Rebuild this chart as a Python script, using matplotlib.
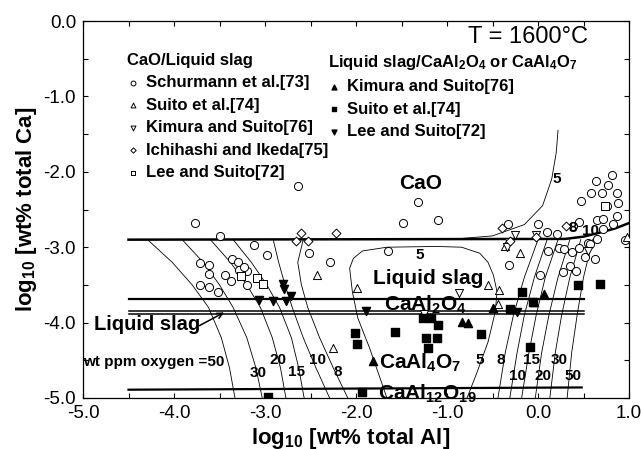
import numpy as np
import matplotlib
matplotlib.use("Agg")
import matplotlib.pyplot as plt

plt.rcParams['font.family'] = ['Liberation Sans', 'DejaVu Sans']
plt.rcParams['mathtext.fontset'] = 'custom'
plt.rcParams['mathtext.rm'] = 'Liberation Sans:bold'
plt.rcParams['mathtext.it'] = 'Liberation Sans:bold'
plt.rcParams['mathtext.bf'] = 'Liberation Sans:bold'
plt.rcParams['mathtext.default'] = 'rm'

# ---- measured equilibria: CaO / liquid slag ----
schurmann_x = [-3.77, -3.49, -3.12, -2.98, -3.71, -3.62, -3.61, -3.71, -3.62, -3.52, -3.44, -3.37,
               -3.36, -3.30, -3.29, -3.20, -3.20, -3.23,
               -2.64, -2.52, -2.29, -1.65, -1.48, -1.32, -1.10, -0.33, -0.32, 0.00,
               0.10, 0.21, 0.11, 0.02, 0.23, 0.29, 0.37, 0.45, 0.45, 0.55, 0.63, 0.52, 0.35, 0.27,
               0.42, 0.47, 0.58, 0.70, 0.64, 0.77, 0.81, 0.87, 0.88, 0.76, 0.87, 0.65, 0.71, 0.82,
               0.71, 0.65, 0.57, 0.96, 0.38]
schurmann_y = [-2.68, -2.85, -2.97, -3.10, -3.21, -3.24, -3.35, -3.50, -3.53, -3.59, -3.37, -3.45,
               -3.16, -3.19, -3.30, -3.32, -3.50, -3.26,
               -2.19, -3.08, -3.19, -3.05, -2.68, -2.40, -2.64, -2.69, -3.24, -2.69,
               -2.80, -2.83, -3.05, -3.37, -3.01, -3.03, -3.06, -3.01, -2.67, -2.94, -3.15, -3.13,
               -3.25, -3.33, -3.32, -2.39, -2.28, -2.28, -2.12, -2.17, -2.04, -2.28, -2.41, -2.46,
               -2.58, -2.64, -2.63, -2.69, -2.76, -2.89, -2.96, -2.90, -2.72]

suito_open_x = [-2.43, -1.99, -2.25, -0.55, -0.43, -0.44, -0.20, 0.98, -0.36]
suito_open_y = [-3.37, -3.54, -4.34, -3.50, -3.57, -3.75, -3.08, -2.86, -2.98]

kimura_open_x = [-0.87, -1.25, -0.25, -0.32, -0.34, -0.02, 0.55]
kimura_open_y = [-3.61, -3.88, -2.84, -2.93, -3.00, -2.84, -3.05]

ichihashi_x = [-2.60, -2.66, -2.53, -2.22, -0.40, -0.31, -0.02, 0.31]
ichihashi_y = [-2.81, -2.92, -2.92, -2.81, -2.75, -2.92, -2.87, -2.72]

lee_open_x = [-3.26, -3.09, -3.02, 0.74]
lee_open_y = [-3.38, -3.41, -3.49, -2.46]

# ---- measured equilibria: liquid slag / CaAl2O4 or CaAl4O7 ----
kimura_fill_x = [-1.81, -0.84, -0.77, -0.49, -0.04, 0.07]
kimura_fill_y = [-4.51, -3.99, -4.01, -3.81, -3.73, -3.62]

suito_fill_x = [-2.97, -2.01, -1.99, -1.93, -1.57, -1.26, -1.18, -1.10, -1.23, -1.11, -1.21,
                -0.63, -0.18, -0.31, -0.05, -0.09, 0.44, 0.68]
suito_fill_y = [-4.99, -4.14, -4.29, -4.92, -4.12, -3.94, -3.94, -4.03, -4.20, -4.20, -4.34,
                -4.15, -3.59, -3.82, -3.73, -4.32, -3.50, -3.49]

lee_fill_x = [-3.07, -2.91, -2.77, -2.80, -2.79, -2.71, -1.89, -0.23]
lee_fill_y = [-3.70, -3.71, -3.71, -3.49, -3.55, -3.65, -3.85, -3.86]

# ---- phase boundaries ----
cao_bound_x = [-4.5, 0.3, 0.5, 0.7, 0.85, 1.0]
cao_bound_y = [-2.90, -2.89, -2.86, -2.80, -2.75, -2.68]
caal2o4_x = [-4.5, 0.5]
caal2o4_y = [-3.69, -3.69]
slag_upper_y = [-3.85, -3.85]
slag_lower_y = [-3.88, -3.88]
caal12_x = [-4.5, 0.48]
caal12_y = [-4.89, -4.86]

# ---- iso-oxygen contours (wt ppm) ----
iso_y = [-2.9, -3.2, -3.5, -3.8, -4.2, -4.6, -5.0]
iso_left = {
    50: [-4.29, -4.02, -3.80, -3.62, -3.48, -3.39, -3.33],
    30: [-3.91, -3.68, -3.50, -3.35, -3.20, -3.10, -3.03],
    20: [-3.60, -3.38, -3.20, -3.05, -2.92, -2.83, -2.77],
    15: [-3.35, -3.15, -2.98, -2.84, -2.71, -2.63, -2.57],
    10: [-2.91, -2.85, -2.78, -2.70, -2.58, -2.44, -2.29],
    8: [-2.58, -2.64, -2.60, -2.53, -2.40, -2.25, -2.09],
}
iso_right_y = [-5.0, -4.4, -3.9, -3.4, -2.9]
iso_right = {
    8: [-0.44, -0.36, -0.27, -0.15, 0.00],
    10: [-0.31, -0.23, -0.15, -0.04, 0.10],
    15: [-0.18, -0.10, -0.02, 0.08, 0.22],
    20: [-0.03, 0.04, 0.12, 0.22, 0.35],
    30: [0.13, 0.19, 0.26, 0.35, 0.47],
    50: [0.32, 0.37, 0.43, 0.50, 0.60],
}
loop5_x = [-1.66, -1.85, -1.98, -2.04, -2.07, -2.03, -1.93, -1.66, -1.12, -0.84, -0.64,
           -0.55, -0.49, -0.45, -0.47, -0.55, -0.67, -0.78]
loop5_y = [-5.00, -4.34, -3.94, -3.59, -3.28, -3.15, -3.05, -3.00, -2.99, -3.00, -3.08,
           -3.20, -3.37, -3.59, -3.86, -4.26, -4.66, -5.00]
cao5_x = [0.22, 0.20, 0.15, 0.05, -0.15, -0.50, -0.90]
cao5_y = [-1.45, -1.75, -2.10, -2.45, -2.70, -2.85, -2.89]

fig = plt.figure(figsize=(6.41, 4.49), dpi=100)
ax = fig.add_axes([83 / 641, 51 / 449, 546 / 641, 377 / 449])

thin = dict(color='black', lw=0.6)
for xs in iso_left.values():
    ax.plot(xs, iso_y, **thin)
for xs in iso_right.values():
    ax.plot(xs, iso_right_y, **thin)
ax.plot(loop5_x, loop5_y, **thin)
ax.plot(cao5_x, cao5_y, **thin)

ax.plot(cao_bound_x, cao_bound_y, color='black', lw=1.8)
ax.plot(caal2o4_x, caal2o4_y, color='black', lw=1.6)
ax.plot(caal2o4_x, slag_upper_y, color='black', lw=1.1)
ax.plot(caal2o4_x, slag_lower_y, color='black', lw=1.1)
ax.plot(caal12_x, caal12_y, color='black', lw=1.6)

ms = 34
open_kw = dict(facecolor='white', edgecolor='black', linewidths=0.7, zorder=3)
h1 = ax.scatter(schurmann_x, schurmann_y, marker='o', s=ms, label='Schurmann et al.[73]', **open_kw)
h2 = ax.scatter(suito_open_x, suito_open_y, marker='^', s=ms, label='Suito et al.[74]', **open_kw)
h3 = ax.scatter(kimura_open_x, kimura_open_y, marker='v', s=ms, label='Kimura and Suito[76]', **open_kw)
h4 = ax.scatter(ichihashi_x, ichihashi_y, marker='D', s=ms * 0.6, label='Ichihashi and Ikeda[75]', **open_kw)
h5 = ax.scatter(lee_open_x, lee_open_y, marker='s', s=ms * 0.8, label='Lee and Suito[72]', **open_kw)

fill_kw = dict(color='black', zorder=3)
g1 = ax.scatter(kimura_fill_x, kimura_fill_y, marker='^', s=ms, label='Kimura and Suito[76]', **fill_kw)
g2 = ax.scatter(suito_fill_x, suito_fill_y, marker='s', s=ms, label='Suito et al.[74]', **fill_kw)
g3 = ax.scatter(lee_fill_x, lee_fill_y, marker='v', s=ms, label='Lee and Suito[72]', **fill_kw)

leg_kw = dict(frameon=False, prop={'weight': 'bold', 'size': 12}, markerscale=0.6,
              handlelength=0.8, handletextpad=0.36, labelspacing=0.45, borderpad=0,
              borderaxespad=0, alignment='left',
              title_fontproperties={'weight': 'bold', 'size': 12})
leg1 = ax.legend(handles=[h1, h2, h3, h4, h5], title='CaO/Liquid slag', loc='upper left',
                 bbox_to_anchor=(-4.52, -0.42), bbox_transform=ax.transData, **leg_kw)
ax.add_artist(leg1)
ax.legend(handles=[g1, g2, g3], title=r'Liquid slag/CaAl$_2$O$_4$ or CaAl$_4$O$_7$',
          loc='upper left', bbox_to_anchor=(-2.31, -0.42), bbox_transform=ax.transData, **leg_kw)

ax.text(-0.77, -0.21, 'T = 1600°C', fontsize=17, ha='left', va='center')

big = dict(fontsize=15, fontweight='bold', ha='center', va='center')
ax.text(-1.29, -2.15, 'CaO', **big)
ax.text(-1.21, -3.41, 'Liquid slag', **big)
ax.text(-1.24, -3.76, r'CaAl$_2$O$_4$', **big)
ax.text(-1.29, -4.53, r'CaAl$_4$O$_7$', **big)
ax.text(-1.22, -4.95, r'CaAl$_{12}$O$_{19}$', **big)
ax.text(-4.30, -4.02, 'Liquid slag', fontsize=14.5, fontweight='bold', ha='center', va='center')
ax.annotate('', xy=(-3.45, -3.865), xytext=(-3.72, -4.04),
            arrowprops=dict(arrowstyle='->', lw=1.1, color='black', shrinkA=0, shrinkB=0))

lab = dict(fontsize=11, fontweight='bold', ha='center', va='center')
ax.text(-5.0, -4.52, 'wt ppm oxygen =50', fontsize=11, fontweight='bold', ha='left', va='center')
for s, x, y in [('30', -3.08, -4.67), ('20', -2.86, -4.50), ('15', -2.65, -4.66),
                ('10', -2.42, -4.50), ('8', -2.20, -4.66),
                ('5', -0.64, -4.50), ('8', -0.41, -4.50), ('10', -0.23, -4.71),
                ('15', -0.07, -4.50), ('20', 0.05, -4.71), ('30', 0.23, -4.50),
                ('50', 0.38, -4.71), ('5', 0.21, -2.10), ('5', -1.30, -3.10),
                ('8', 0.38, -2.75), ('10', 0.58, -2.78)]:
    ax.text(x, y, s, **lab)

ax.set_xlim(-5.0, 1.0)
ax.set_ylim(-5.0, 0.0)
ax.set_xticks(np.arange(-5.0, 1.01, 1.0))
ax.set_yticks(np.arange(-5.0, 0.01, 1.0))
ax.set_xticks(np.arange(-5.0, 1.01, 0.5), minor=True)
ax.set_yticks(np.arange(-5.0, 0.01, 0.5), minor=True)
ax.xaxis.set_major_formatter(matplotlib.ticker.FormatStrFormatter('%.1f'))
ax.yaxis.set_major_formatter(matplotlib.ticker.FormatStrFormatter('%.1f'))
ax.tick_params(which='both', direction='in', top=True, right=True, length=3.5, width=0.8,
               labelsize=13.5, pad=5)
for sp in ax.spines.values():
    sp.set_linewidth(0.9)

ax.set_xlabel(r'log$_{10}$ [wt% total Al]', fontsize=16, fontweight='bold')
ax.xaxis.set_label_coords(0.49, -0.073)
ax.set_ylabel(r'log$_{10}$ [wt% total Ca]', fontsize=16, fontweight='bold', labelpad=3)

fig.savefig('out.png', dpi=100)
